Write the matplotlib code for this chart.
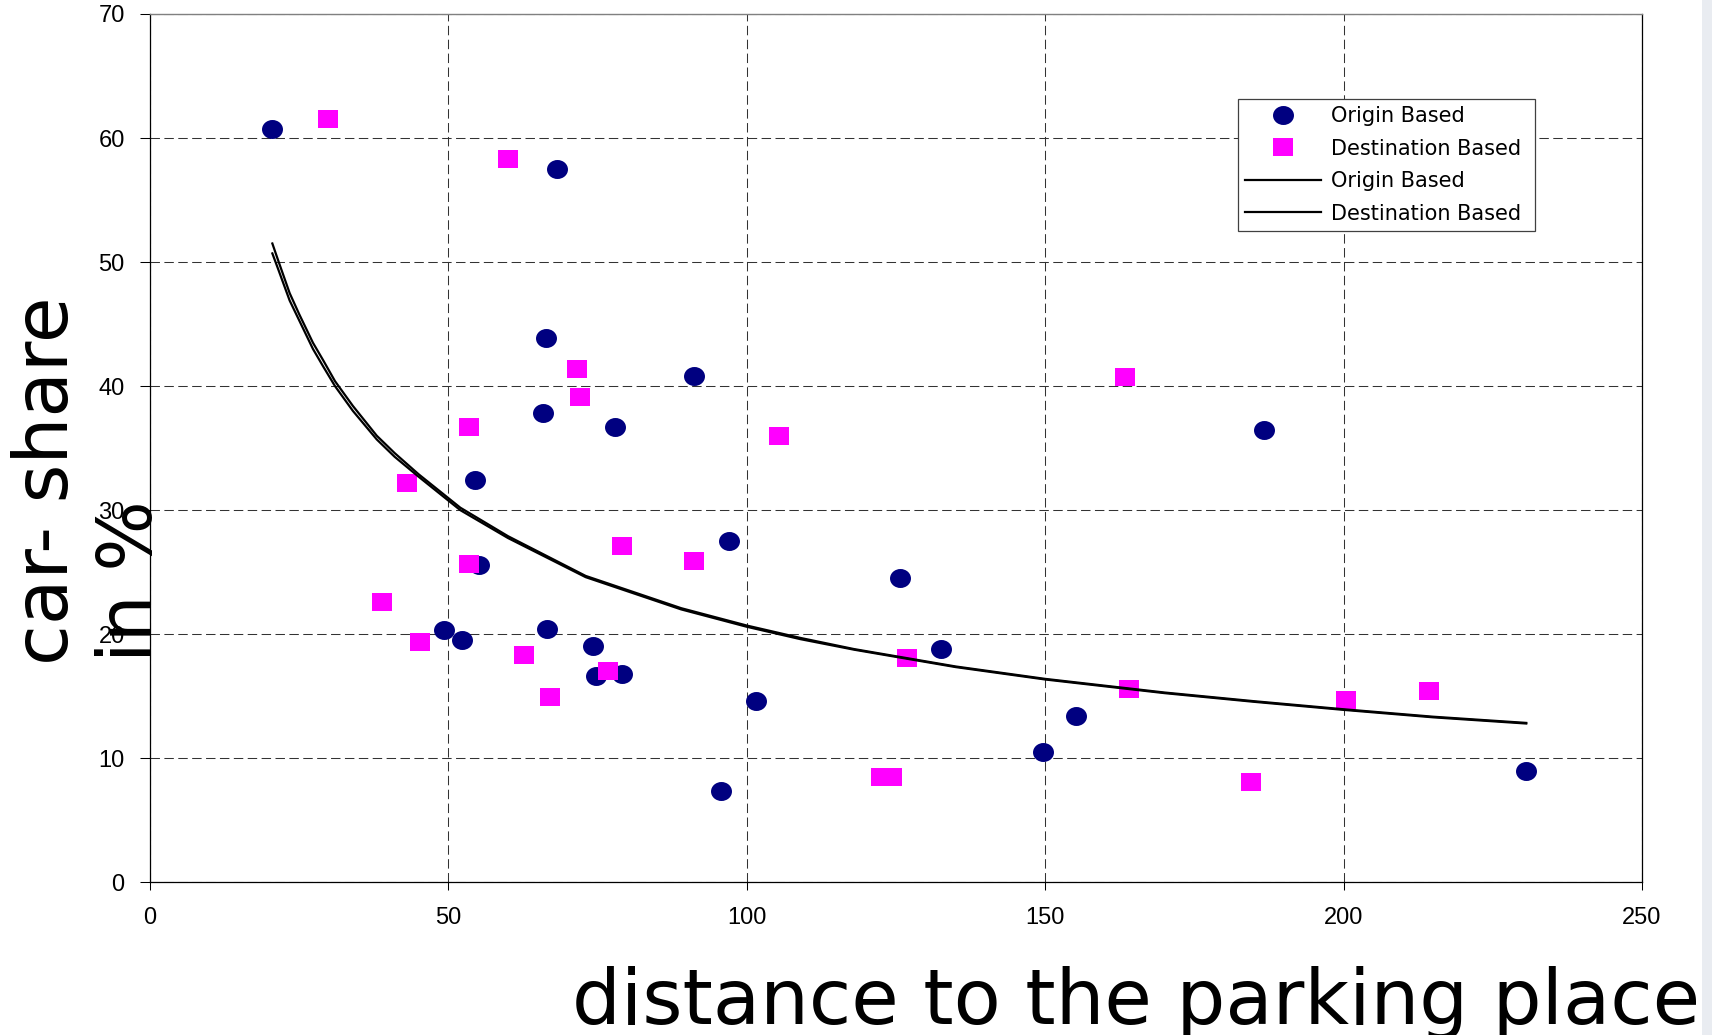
import numpy as np
import matplotlib
matplotlib.use("Agg")
import matplotlib.pyplot as plt
from matplotlib.path import Path
from matplotlib.lines import Line2D
from matplotlib.patches import Rectangle

plt.rcParams["font.family"] = ["Liberation Sans", "DejaVu Sans"]
plt.rcParams["lines.scale_dashes"] = False

# 数据
origin_dist = [20.5, 68.2, 66.3, 65.9, 77.9, 91.1, 54.4, 55.1, 97.0, 49.2, 52.2, 66.6,
               74.3, 74.8, 79.1, 101.5, 95.7, 125.7, 132.6, 149.6, 155.1, 186.7, 230.6]
origin_share = [60.7, 57.5, 43.9, 37.8, 36.7, 40.8, 32.4, 25.6, 27.5, 20.3, 19.5, 20.4,
                19.05, 16.6, 16.8, 14.6, 7.4, 24.5, 18.8, 10.5, 13.4, 36.5, 9.0]

dest_dist = [29.8, 60.05, 71.6, 72.0, 53.5, 43.0, 105.4, 163.4, 53.4, 79.1, 91.1, 38.8,
             45.3, 62.7, 76.7, 67.0, 126.8, 122.5, 124.4, 164.0, 184.5, 200.4, 214.3]
dest_share = [61.5, 58.3, 41.4, 39.1, 36.7, 32.2, 36.0, 40.7, 25.7, 27.1, 25.9, 22.6,
              19.4, 18.35, 17.0, 14.9, 18.1, 8.45, 8.45, 15.6, 8.1, 14.7, 15.4]

# 趋势线 (读取的曲线点)
trend_dist = [20.5, 21.5, 23.4, 25, 27.3, 29, 31, 34, 38, 41, 45, 52, 60, 73, 89,
              100, 109, 118, 135, 150, 170, 185, 200, 215, 230.6]
trend_origin = [51.5, 50.1, 47.5, 45.8, 43.5, 42.1, 40.4, 38.4, 36.0, 34.6, 32.9, 30.2,
                27.9, 24.7, 22.1, 20.7, 19.7, 18.8, 17.4, 16.4, 15.3, 14.6, 13.95,
                13.35, 12.85]
trend_dest = [50.7, 49.4, 46.9, 45.3, 43.0, 41.6, 40.0, 38.0, 35.7, 34.3, 32.7, 30.0,
              27.75, 24.6, 22.0, 20.6, 19.6, 18.75, 17.35, 16.35, 15.25, 14.55, 13.9,
              13.3, 12.8]

x_ticks = [0, 50, 100, 150, 200, 250]
y_ticks = [0, 10, 20, 30, 40, 50, 60, 70]
legend_labels = ["Origin Based", "Destination Based", "Origin Based", "Destination Based"]

NAVY = "#000080"
MAGENTA = "#FF00FF"
WIDE = ["DejaVu Sans"]

# 椭圆和矩形标记
ellipse = Path(Path.unit_circle().vertices * np.array([1.0, 0.905]), Path.unit_circle().codes)
rect = Path([(-1, -0.905), (1, -0.905), (1, 0.905), (-1, 0.905), (-1, -0.905)],
            [Path.MOVETO, Path.LINETO, Path.LINETO, Path.LINETO, Path.CLOSEPOLY])

W, H = 1712, 1035
fig = plt.figure(figsize=(W / 100, H / 100), dpi=100)
ax = fig.add_axes([150 / W, 1 - 882.3 / H, (1642 - 150) / W, (882.3 - 14) / H])

ax.plot(origin_dist, origin_share, linestyle="none", marker=ellipse, markersize=15.1,
        markerfacecolor=NAVY, markeredgewidth=0, zorder=3)
ax.plot(dest_dist, dest_share, linestyle="none", marker=rect, markersize=14.9,
        markerfacecolor=MAGENTA, markeredgewidth=0, zorder=4)
ax.plot(trend_dist, trend_origin, color="black", linewidth=1.6, zorder=5)
ax.plot(trend_dist, trend_dest, color="black", linewidth=1.6, zorder=5)

ax.set_xlim(0, 250)
ax.set_ylim(0, 70)
ax.set_xticks(x_ticks)
ax.set_yticks(y_ticks)
ax.set_axisbelow(True)
ax.grid(True, color="#333333", linewidth=0.75, linestyle=(0, (6.8, 3.2)))

for side in ["left", "bottom", "right"]:
    ax.spines[side].set_color("black")
    ax.spines[side].set_linewidth(0.9)
ax.spines["top"].set_color("#808080")
ax.spines["top"].set_linewidth(1.0)

ax.tick_params(axis="both", direction="out", labelsize=17, width=0.75, color="black")
ax.tick_params(axis="x", length=6, pad=12)
ax.tick_params(axis="y", length=7.2, pad=11)

# 图例
handles = [
    Line2D([], [], linestyle="none", marker=ellipse, markersize=15.1,
           markerfacecolor=NAVY, markeredgewidth=0),
    Line2D([], [], linestyle="none", marker=rect, markersize=14.9,
           markerfacecolor=MAGENTA, markeredgewidth=0),
    Line2D([], [], color="black", linewidth=1.6),
    Line2D([], [], color="black", linewidth=1.6),
]
leg = ax.legend(handles, legend_labels, loc="upper left",
                bbox_to_anchor=(1238.3 / W, 1 - 227.7 / H, 296.7 / W, 128.4 / H),
                bbox_transform=fig.transFigure, mode="expand", borderaxespad=0,
                prop={"family": WIDE, "size": 15}, numpoints=1, handlelength=3.65,
                handletextpad=0.45, borderpad=0.33, labelspacing=0.6,
                fancybox=False, framealpha=1)
leg.get_frame().set_edgecolor("#404040")
leg.get_frame().set_linewidth(0.9)

# 坐标轴标题
fig.text(572 / W, 1 - 1024 / H, "distance to the parking place", fontsize=55.5,
         family=WIDE, ha="left", va="baseline", rotation_mode="anchor")
fig.text(68.3 / W, 1 - 665 / H, "car- share", fontsize=53.5, family=WIDE, rotation=90,
         ha="left", va="baseline", rotation_mode="anchor")
fig.text(151.7 / W, 1 - 662 / H, "in %", fontsize=53.5, family=WIDE, rotation=90,
         ha="left", va="baseline", rotation_mode="anchor")

# 右侧灰条
fig.patches.append(Rectangle((1702 / W, 0), 10 / W, 1, transform=fig.transFigure,
                             facecolor="#E9ECF1", edgecolor="none", zorder=10))

fig.savefig("out.png", dpi=100)
